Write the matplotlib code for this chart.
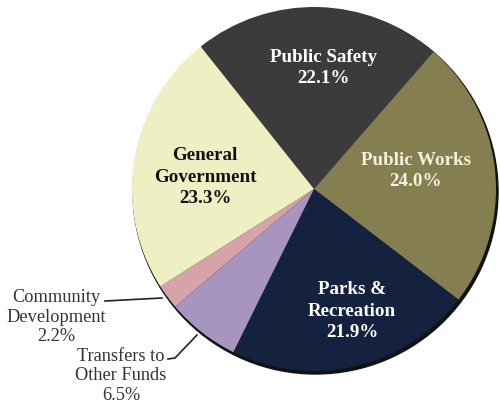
import matplotlib
matplotlib.use("Agg")
import matplotlib.pyplot as plt
from matplotlib.patches import Circle

# Expenditure shares by function (percent)
categories = ["Public Safety", "Public Works", "Parks &\nRecreation",
              "Transfers to\nOther Funds", "Community\nDevelopment",
              "General\nGovernment"]
shares = [22.1, 24.0, 21.9, 6.5, 2.2, 23.3]
colors = ["#3b3b3b", "#857e50", "#14223f", "#a795bf", "#d6a3ab", "#efefc4"]

W, H = 500, 409
fig = plt.figure(figsize=(W / 100, H / 100), dpi=100)
ax = fig.add_axes([0, 0, 1, 1])

def py(y):
    # pixel row (from top) -> data y
    return H - y

cx, cy, r = 314, py(189), 182

# dark rim under the pie
ax.add_patch(Circle((cx + 1.5, cy - 2.5), r + 0.5, color="#111111", zorder=1))

wedges, _ = ax.pie(shares, colors=colors, startangle=128.5, counterclock=False,
                   center=(cx, cy), radius=r, frame=True,
                   wedgeprops=dict(linewidth=0, zorder=2))
ax.set_xlim(0, W)
ax.set_ylim(0, H)
ax.set_aspect("equal")
ax.axis("off")

serif = ["Liberation Serif", "DejaVu Serif"]
bold = dict(family=serif, fontsize=13.7, fontweight="bold", ha="center",
            va="center", linespacing=1.33, zorder=5)

ax.text(323, py(68), f"Public Safety\n{shares[0]:.1f}%", color="white", **bold)
ax.text(416, py(171), f"Public Works\n{shares[1]:.1f}%", color="#f4f0dc", **bold)
ax.text(352, py(311), f"Parks &\nRecreation\n{shares[2]:.1f}%", color="white", **bold)
ax.text(205, py(177), f"General\nGovernment\n{shares[5]:.1f}%", color="#111111", **bold)

reg = dict(family=serif, fontsize=13.2, ha="center", va="center",
           linespacing=1.22, color="#333333", zorder=5)
ax.text(56, py(317), f"Community\nDevelopment\n{shares[4]:.1f}%", **reg)
ax.text(121, py(376), f"Transfers to\nOther Funds\n{shares[3]:.1f}%", **reg)

# leader lines
ax.plot([105, 162], [py(301), py(298)], color="#222222", lw=1.2, zorder=6)
ax.plot([168, 175, 197], [py(359), py(358), py(335)], color="#222222", lw=1.2, zorder=6)

fig.savefig("out.png", dpi=100)
